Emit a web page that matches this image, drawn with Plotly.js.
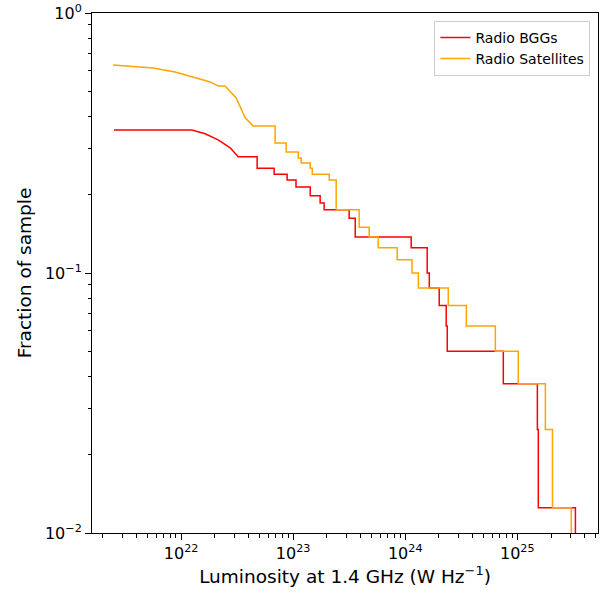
<!DOCTYPE html>
<html>
<head>
<meta charset="utf-8">
<script src="https://cdn.plot.ly/plotly-3.0.1.min.js"></script>
<style>html,body{margin:0;padding:0;background:#fff}</style>
</head>
<body>
<div id="chart" style="width:606px;height:593px"></div>
<script>
// Radio BGGs: smooth head, then step changes (x where value drops, new value)
const bggCurveX = [2.52e21, 1.25e22, 1.64e22, 2.14e22, 2.74e22, 3.23e22, 4.77e22];
const bggCurveY = [0.355, 0.355, 0.343, 0.325, 0.303, 0.280, 0.280];
const bggStepX = [4.77e22, 6.76e22, 8.83e22, 1.06e23, 1.42e23, 1.74e23, 1.89e23, 3.16e23, 3.58e23,
  1.13e24, 1.57e24, 1.64e24, 2.01e24, 2.32e24, 2.37e24, 7.50e24, 1.51e25, 1.54e25, 3.30e25];
const bggStepY = [0.253, 0.240, 0.228, 0.214, 0.198, 0.186, 0.175, 0.1625, 0.1375,
  0.125, 0.1, 0.0875, 0.075, 0.0625, 0.05, 0.0375, 0.025, 0.0125, 0.005];

// Radio Satellites
const satCurveX = [2.47e21, 5.62e21, 8.84e21, 1.82e22, 2.14e22, 2.47e22, 3.10e22, 3.73e22, 4.39e22, 6.90e22];
const satCurveY = [0.631, 0.614, 0.593, 0.543, 0.524, 0.524, 0.471, 0.395, 0.368, 0.368];
const satStepX = [6.90e22, 8.66e22, 1.11e23, 1.18e23, 1.42e23, 1.48e23, 2.10e23, 2.42e23, 3.88e23,
  4.77e23, 5.74e23, 8.48e23, 1.15e24, 1.31e24, 2.42e24, 3.51e24, 6.37e24, 1.02e25, 1.78e25, 2.06e25, 3.03e25];
const satStepY = [0.316, 0.292, 0.277, 0.265, 0.253, 0.240, 0.228, 0.175, 0.15,
  0.1375, 0.125, 0.1125, 0.1, 0.0875, 0.075, 0.0625, 0.05, 0.0375, 0.025, 0.0125, 0.005];

function buildSeries(cx, cy, sx, sy) {
  const x = [...cx], y = [...cy];
  let prev = cy[cy.length - 1];
  sx.forEach((v, i) => {
    x.push(v, v); y.push(prev, sy[i]);
    prev = sy[i];
  });
  return { x, y };
}

const bgg = buildSeries(bggCurveX, bggCurveY, bggStepX, bggStepY);
const sat = buildSeries(satCurveX, satCurveY, satStepX, satStepY);

const traces = [
  { type: "scatter", mode: "lines", name: "Radio BGGs", x: bgg.x, y: bgg.y, line: { color: "#ff0000", width: 1.5 } },
  { type: "scatter", mode: "lines", name: "Radio Satellites", x: sat.x, y: sat.y, line: { color: "#ffa500", width: 1.5 } },
];

const axisCommon = {
  type: "log", showgrid: false, zeroline: false, showline: true, mirror: true,
  linecolor: "#000", linewidth: 1, ticks: "outside", ticklen: 6, tickcolor: "#000",
  minor: { ticks: "outside", ticklen: 3.5, tickcolor: "#000", showgrid: false, dtick: "D1" },
  tickfont: { size: 16, color: "#000" },
};

const layout = {
  width: 606, height: 593,
  paper_bgcolor: "#fff", plot_bgcolor: "#fff",
  font: { family: "DejaVu Sans, sans-serif", color: "#000" },
  margin: { l: 92, r: 8, t: 13, b: 60 },
  showlegend: true,
  legend: { x: 0.985, y: 0.985, xanchor: "right", yanchor: "top", bordercolor: "#ccc", borderwidth: 1, font: { size: 14 } },
  xaxis: Object.assign({}, axisCommon, {
    range: [21.205, 25.72],
    tickvals: [1e22, 1e23, 1e24, 1e25],
    ticktext: ["10<sup>22</sup>", "10<sup>23</sup>", "10<sup>24</sup>", "10<sup>25</sup>"],
    title: { text: "Luminosity at 1.4 GHz (W Hz<sup>−1</sup>)", font: { size: 18.5 }, standoff: 6 },
  }),
  yaxis: Object.assign({}, axisCommon, {
    range: [-2, 0],
    tickvals: [0.01, 0.1, 1],
    ticktext: ["10<sup>−2</sup>", "10<sup>−1</sup>", "10<sup>0</sup>"],
    title: { text: "Fraction of sample", font: { size: 18.5 }, standoff: 8 },
  }),
};

Plotly.newPlot("chart", traces, layout, { displayModeBar: false, staticPlot: true });
</script>
</body>
</html>
